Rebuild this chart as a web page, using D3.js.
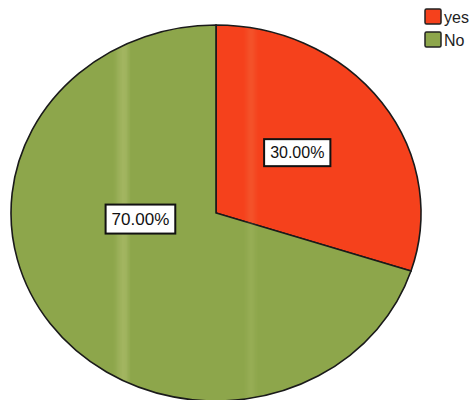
<!DOCTYPE html>
<html>
<head>
<meta charset="utf-8">
<script src="https://cdn.jsdelivr.net/npm/d3@7"></script>
<style>
  html, body { margin: 0; padding: 0; background: #fff; }
  svg { display: block; }
</style>
</head>
<body>
<svg id="chart" width="475" height="400"></svg>
<script>
// Answer categories and their shares (percent)
const categories = ["yes", "No"];
const shares = [30, 70];
const colors = ["#f5411c", "#8da64b"];

// Label placement per slice, as fractions of the radius (angle in degrees from 12 o'clock)
const labelPlacement = [
  { angle: 51, radius: 0.51 },
  { angle: 265, radius: 0.37 }
];

const svg = d3.select("#chart");
const W = 475, H = 400;

// Ellipse geometry of the pie
const cx = 216, cy = 213, rx = 205, ry = 188;

const pie = d3.pie().sort(null).value(d => d);
const arcs = pie(shares);
const arc = d3.arc().innerRadius(0).outerRadius(rx);

const g = svg.append("g")
  .attr("transform", `translate(${cx},${cy}) scale(1,${ry / rx})`);

g.selectAll("path.slice")
  .data(arcs)
  .enter().append("path")
  .attr("class", "slice")
  .attr("d", arc)
  .attr("fill", (d, i) => colors[i])
  .attr("stroke", "#1a1a1a")
  .attr("stroke-width", 1.6)
  .attr("vector-effect", "non-scaling-stroke");

// Faint vertical sheen across the printed pie
const defs = svg.append("defs");
defs.append("clipPath").attr("id", "pieClip")
  .append("ellipse").attr("cx", cx).attr("cy", cy).attr("rx", rx - 1).attr("ry", ry - 1);
defs.append("filter").attr("id", "soft").attr("x", "-50%").attr("width", "200%")
  .append("feGaussianBlur").attr("stdDeviation", 2.5);
const sheen = svg.append("g").attr("clip-path", "url(#pieClip)");
[[117, 10, 0.18], [124, 4, 0.14], [247, 8, 0.1]].forEach(([x, w, o]) => {
  sheen.append("rect").attr("x", x).attr("y", 0).attr("width", w).attr("height", H)
    .attr("fill", "#f4f0b4").attr("opacity", o).attr("filter", "url(#soft)");
});

// Percentage labels in white boxes
const fmt = d3.format(".2f");
const labels = svg.append("g");
arcs.forEach((d, i) => {
  const p = labelPlacement[i];
  const a = p.angle * Math.PI / 180;
  const x = cx + Math.sin(a) * rx * p.radius;
  const y = cy - Math.cos(a) * ry * p.radius;
  const lg = labels.append("g").attr("transform", `translate(${x},${y})`);
  const t = lg.append("text")
    .attr("text-anchor", "middle")
    .attr("dominant-baseline", "central")
    .attr("font-family", "Liberation Sans, Arial, sans-serif")
    .attr("font-size", i === 0 ? 16 : 17)
    .attr("font-weight", 500)
    .attr("fill", "#111")
    .text(fmt(d.data) + "%");
  const bb = t.node().getBBox();
  const padX = 6, padY = 5;
  lg.insert("rect", "text")
    .attr("x", bb.x - padX).attr("y", bb.y - padY)
    .attr("width", bb.width + padX * 2).attr("height", bb.height + padY * 2)
    .attr("fill", "#fff").attr("stroke", "#111").attr("stroke-width", 2);
});

// Legend
const legend = svg.append("g").attr("transform", "translate(425,9)");
categories.forEach((c, i) => {
  const row = legend.append("g").attr("transform", `translate(0,${i * 23})`);
  row.append("rect").attr("width", 16).attr("height", 15)
    .attr("fill", colors[i]).attr("stroke", "#222").attr("stroke-width", 1.5).attr("rx", 1.5);
  row.append("text").attr("x", 19).attr("y", 14)
    .attr("font-family", "Liberation Sans, Arial, sans-serif")
    .attr("font-size", 16).attr("fill", "#222")
    .text(c);
});
</script>
</body>
</html>
